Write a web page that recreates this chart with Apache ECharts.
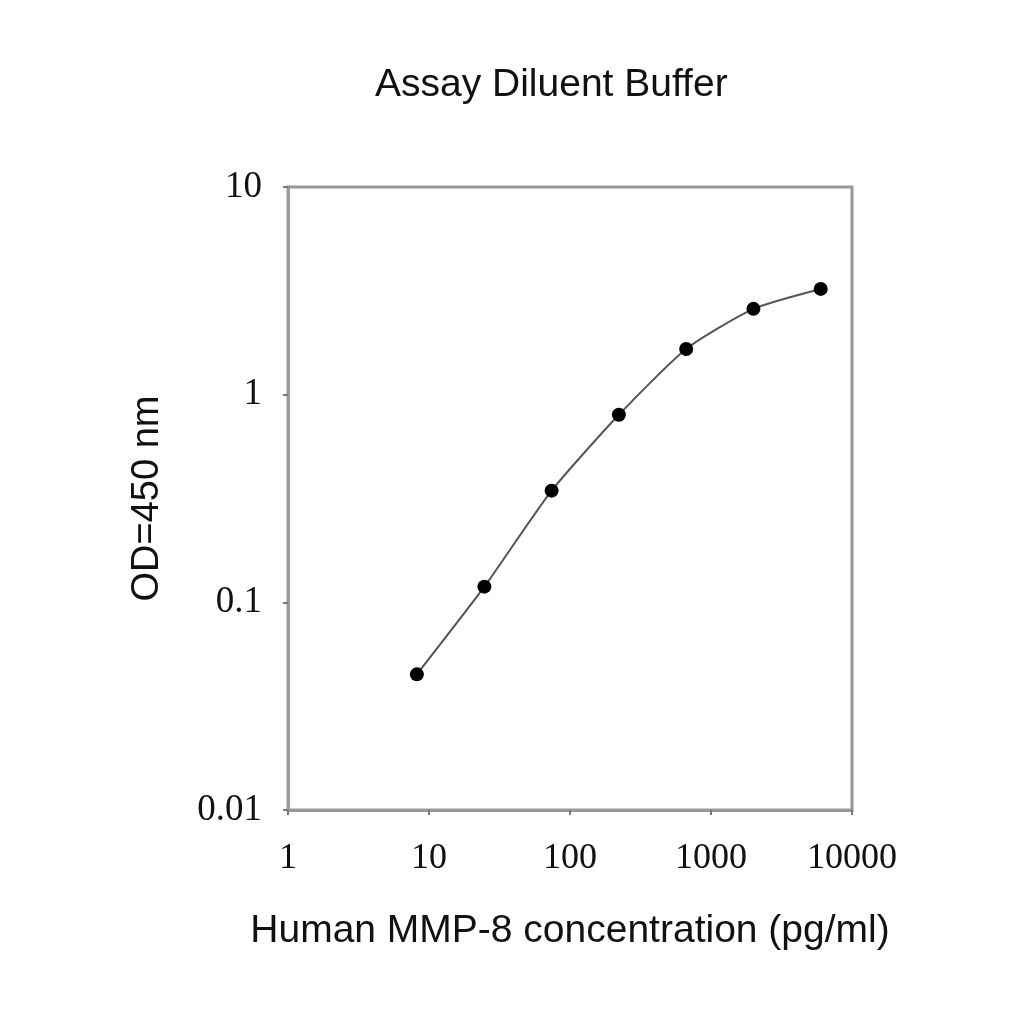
<!DOCTYPE html>
<html>
<head>
<meta charset="utf-8">
<script src="https://cdn.jsdelivr.net/npm/echarts@6/dist/echarts.min.js"></script>
<style>
  html, body { margin: 0; padding: 0; background: #fff; }
  #chart { width: 1024px; height: 1024px; }
</style>
</head>
<body>
<div id="chart"></div>
<script>
// standard curve, 3-fold dilutions
var concentration = [8.2, 24.7, 74.1, 222.2, 666.7, 2000, 6000];
var od450 = [0.045, 0.119, 0.345, 0.80, 1.66, 2.59, 3.23];
var xRange = [1, 10000];
var yRange = [0.01, 10];

var points = concentration.map(function (c, i) { return [c, od450[i]]; });

var chart = echarts.init(document.getElementById('chart'));
chart.setOption({
    backgroundColor: '#fff',
    title: {
        text: 'Assay Diluent Buffer',
        left: 370,
        top: 61,
        textStyle: { fontFamily: 'Liberation Sans', fontSize: 39, fontWeight: 'normal', color: '#111' }
    },
    grid: {
        left: 288, right: 172, top: 187, bottom: 214,
        show: true, borderColor: '#999', borderWidth: 3
    },
    xAxis: {
        type: 'log', logBase: 10, min: xRange[0], max: xRange[1],
        name: 'Human MMP-8 concentration (pg/ml)',
        nameLocation: 'middle', nameGap: 102,
        nameTextStyle: { fontFamily: 'Liberation Sans', fontSize: 39, color: '#111' },
        axisLine: { lineStyle: { color: '#999', width: 3 } },
        axisTick: { show: true, length: 5, lineStyle: { color: '#777', width: 2 } },
        minorTick: { show: false },
        splitLine: { show: false },
        axisLabel: {
            fontFamily: 'Liberation Serif', fontSize: 36, color: '#111', margin: 31,
            formatter: function (v) { return String(v); }
        }
    },
    yAxis: {
        type: 'log', logBase: 10, min: yRange[0], max: yRange[1],
        name: 'OD=450 nm',
        nameLocation: 'middle', nameGap: 121,
        nameTextStyle: { fontFamily: 'Liberation Sans', fontSize: 38, color: '#111' },
        axisLine: { show: true, lineStyle: { color: '#999', width: 3 } },
        axisTick: { show: true, length: 5, lineStyle: { color: '#777', width: 2 } },
        splitLine: { show: false },
        axisLabel: {
            fontFamily: 'Liberation Serif', fontSize: 37, color: '#111', margin: 26,
            formatter: function (v) { return String(v); }
        }
    },
    series: [{
        type: 'line',
        data: points,
        smooth: 0.2,
        symbol: 'circle',
        symbolSize: 14,
        itemStyle: { color: '#000' },
        lineStyle: { color: '#555', width: 2 }
    }]
});
</script>
</body>
</html>
